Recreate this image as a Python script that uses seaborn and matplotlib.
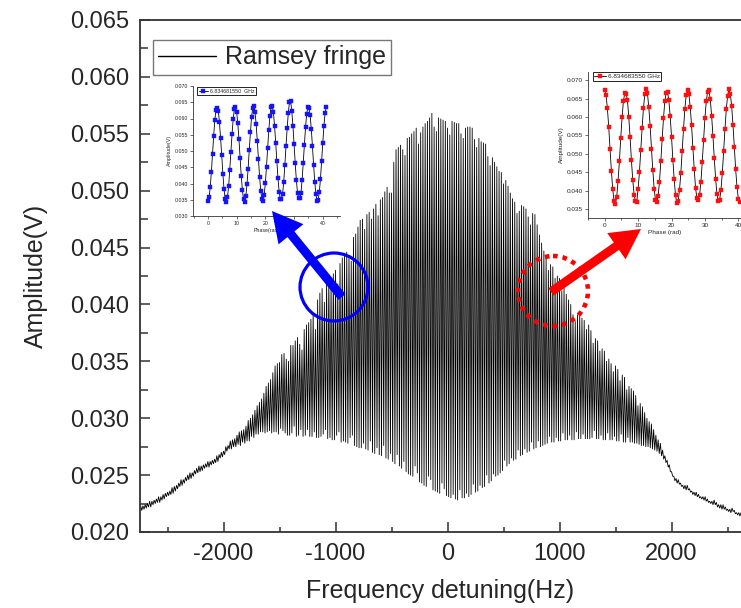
import numpy as np
import pandas as pd
import matplotlib
matplotlib.use("Agg")
import matplotlib.pyplot as plt
import seaborn as sns
from matplotlib.patches import Circle, FancyArrow
from matplotlib.ticker import MultipleLocator, FormatStrFormatter

# ---------------- data (amplitudes in units of 1e-4 V) ----------------
# Each 40 Hz block holds two fringes: peak_a (f), trough_a (f+10), peak_b (f+20), trough_b (f+30)
fringe_start_hz = -2740
block_hz = 40
peak_a_1e4 = [
    223, 224, 227, 228, 231, 233, 235, 239, 241, 246,
    248, 252, 254, 258, 259, 262, 263, 267, 270, 275,
    280, 282, 288, 290, 298, 303, 311, 317, 328, 334,
    346, 349, 357, 350, 364, 371, 360, 382, 387, 378,
    410, 402, 425, 427, 418, 441, 446, 438, 462, 474,
    466, 481, 484, 478, 494, 503, 498, 536, 540, 531,
    547, 552, 541, 556, 561, 568, 552, 563, 561, 549,
    560, 559, 546, 556, 555, 538, 543, 541, 522, 525,
    517, 506, 504, 493, 480, 487, 484, 470, 479, 461,
    447, 430, 433, 425, 412, 409, 400, 385, 391, 386,
    382, 366, 368, 361, 350, 348, 346, 333, 336, 328,
    324, 311, 310, 300, 295, 285, 278, 267, 259, 249,
    246, 241, 241, 236, 235, 231, 231, 227, 228, 224,
    224, 220, 221, 217, 217,
]
trough_a_1e4 = [
    219, 221, 222, 225, 226, 229, 232, 234, 238, 241,
    245, 247, 251, 253, 256, 257, 260, 262, 266, 271,
    273, 275, 276, 278, 280, 283, 286, 288, 288, 287,
    288, 291, 287, 285, 293, 285, 284, 290, 284, 283,
    284, 290, 283, 281, 288, 280, 278, 285, 275, 274,
    273, 280, 269, 268, 276, 264, 262, 268, 256, 253,
    250, 258, 244, 241, 249, 237, 235, 243, 232, 230,
    229, 237, 230, 231, 242, 236, 239, 250, 245, 249,
    252, 263, 260, 263, 272, 268, 270, 279, 274, 275,
    277, 284, 279, 280, 287, 281, 281, 288, 282, 282,
    282, 289, 282, 281, 287, 281, 280, 286, 279, 279,
    278, 277, 276, 275, 273, 271, 267, 261, 253, 245,
    242, 238, 237, 233, 231, 229, 227, 225, 224, 221,
    220, 218, 218, 215, 214,
]
peak_b_1e4 = [
    223, 225, 227, 229, 231, 234, 236, 240, 243, 246,
    250, 252, 256, 258, 260, 262, 264, 268, 271, 276,
    281, 285, 289, 293, 300, 307, 314, 322, 331, 340,
    348, 356, 352, 364, 368, 365, 378, 384, 393, 404,
    414, 421, 418, 430, 436, 444, 443, 459, 468, 475,
    479, 475, 488, 492, 499, 498, 525, 538, 536, 546,
    550, 555, 551, 559, 564, 556, 564, 562, 555, 561,
    559, 550, 555, 556, 545, 546, 542, 530, 529, 521,
    516, 509, 498, 490, 482, 486, 477, 480, 470, 454,
    442, 435, 423, 423, 415, 404, 391, 391, 388, 378,
    377, 370, 359, 359, 352, 341, 343, 338, 325, 326,
    320, 313, 305, 297, 290, 281, 272, 263, 253, 247,
    243, 241, 238, 235, 233, 231, 229, 227, 226, 224,
    222, 220, 219, 217, 216,
]
trough_b_1e4 = [
    220, 222, 224, 226, 228, 231, 233, 236, 240, 243,
    246, 249, 252, 254, 257, 259, 261, 265, 268, 273,
    275, 277, 279, 280, 284, 286, 288, 287, 289, 288,
    286, 289, 285, 287, 284, 290, 285, 284, 288, 283,
    286, 282, 281, 285, 279, 279, 283, 276, 274, 278,
    272, 270, 274, 267, 265, 269, 260, 258, 262, 251,
    249, 252, 243, 240, 246, 236, 234, 238, 231, 233,
    228, 230, 234, 233, 235, 241, 240, 243, 251, 250,
    254, 258, 265, 264, 267, 273, 271, 273, 280, 276,
    278, 279, 283, 280, 281, 285, 281, 282, 286, 282,
    283, 282, 285, 281, 281, 284, 280, 279, 283, 279,
    278, 276, 275, 274, 272, 269, 264, 257, 249, 243,
    240, 237, 235, 232, 230, 228, 226, 224, 222, 220,
    219, 217, 216, 214, 213,
]

blue_label = "6.834681550  GHz"
blue_phase_step = 0.4
blue_amp_1e4 = [
    345, 357, 388, 436, 491, 546, 595, 626, 633, 624,
    590, 541, 487, 430, 384, 353, 344, 358, 391, 442,
    497, 552, 598, 628, 636, 620, 585, 537, 480, 424,
    380, 351, 342, 361, 397, 446, 503, 557, 604, 632,
    637, 620, 582, 531, 474, 420, 377, 352, 346, 365,
    401, 452, 509, 564, 609, 636, 640, 620, 578, 526,
    469, 416, 375, 352, 352, 368, 405, 458, 516, 570,
    618, 650, 653, 624, 578, 521, 463, 411, 372, 355,
    355, 371, 411, 463, 520, 573, 614, 634, 632, 610,
    568, 515, 458, 406, 368, 347, 349, 373, 415, 469,
    525, 577, 616, 634,
]

red_label = "6.834683550 GHz"
red_phase_step = 0.4
red_amp_1e4 = [
    672, 660, 624, 574, 512, 454, 404, 372, 363, 384,
    427, 480, 543, 599, 643, 664, 663, 646, 600, 545,
    482, 429, 389, 371, 370, 405, 450, 511, 570, 624,
    661, 676, 664, 626, 576, 514, 456, 405, 375, 369,
    387, 424, 480, 540, 597, 643, 666, 667, 646, 602,
    547, 484, 431, 388, 366, 373, 403, 449, 509, 568,
    623, 659, 672, 662, 627, 578, 516, 458, 407, 380,
    376, 388, 424, 478, 537, 597, 642, 668, 672, 648,
    604, 549, 488, 433, 391, 371, 374, 402, 447, 507,
    568, 621, 658, 675, 663, 630, 578, 519, 458, 410,
    378, 370,
]

main_xticks = [-2000, -1000, 0, 1000, 2000]
main_yticks = [0.020, 0.025, 0.030, 0.035, 0.040, 0.045, 0.050, 0.055, 0.060, 0.065]
inset_xticks = [0, 10, 20, 30, 40]
blue_yticks = [0.030, 0.035, 0.040, 0.045, 0.050, 0.055, 0.060, 0.065, 0.070]
red_yticks = [0.035, 0.040, 0.045, 0.050, 0.055, 0.060, 0.065, 0.070]

# ---------------- style ----------------
sns.set_theme(style="white")
plt.rcParams['font.family'] = ['Liberation Sans', 'DejaVu Sans']
plt.rcParams['axes.edgecolor'] = '#333333'
plt.rcParams['axes.unicode_minus'] = False

W, H = 741, 608
fig = plt.figure(figsize=(W / 100, H / 100), dpi=100)

def px_axes(x0, y0, x1, y1):
    return fig.add_axes([x0 / W, 1 - y1 / H, (x1 - x0) / W, (y1 - y0) / H])

# ---------------- main axes ----------------
ax = px_axes(140, 20, 741, 532)
base_f = fringe_start_hz + block_hz * np.arange(len(peak_a_1e4))
freq = np.column_stack([base_f, base_f + block_hz / 4, base_f + block_hz / 2,
                        base_f + 3 * block_hz / 4]).ravel()
amp = np.column_stack([peak_a_1e4, trough_a_1e4, peak_b_1e4, trough_b_1e4]).ravel() / 1e4
df = pd.DataFrame({"f": freq, "a": amp})
sns.lineplot(data=df, x="f", y="a", sort=False, estimator=None,
             color="black", lw=0.6, ax=ax, label="Ramsey fringe")
ax.set_xlim(-2746, 2620)
ax.set_ylim(0.020, 0.065)
ax.set_xticks(main_xticks)
ax.set_yticks(main_yticks)
ax.xaxis.set_minor_locator(MultipleLocator(500))
ax.yaxis.set_minor_locator(MultipleLocator(0.0025))
ax.yaxis.set_major_formatter(FormatStrFormatter('%.3f'))
ax.tick_params(which='major', direction='in', length=7, width=1.1,
               labelsize=17, color='#333333', bottom=True, left=True, pad=8)
ax.tick_params(axis='y', which='minor', direction='in', length=6, width=1.1,
               color='#333333', left=True)
ax.tick_params(axis='x', which='minor', direction='in', length=3.6, width=1.1,
               color='#333333', bottom=True)
for s in ['left', 'bottom', 'top']:
    ax.spines[s].set_linewidth(1.3)
ax.spines['right'].set_visible(False)
ax.set_xlabel("Frequency detuning(Hz)", fontsize=18, labelpad=10)
ax.set_ylabel("Amplitude(V)", fontsize=18, labelpad=16)
leg = ax.legend(loc='upper left', bbox_to_anchor=(0.0216, 0.961), borderaxespad=0,
                fontsize=18, frameon=True, fancybox=False, framealpha=1,
                edgecolor='#777777', handlelength=2.3, handletextpad=0.35,
                borderpad=0.22)
leg.get_frame().set_linewidth(1.0)
for l in leg.get_lines():
    l.set_linewidth(1.0)

# ---------------- insets ----------------
def inset(rect, phase_step, vals, color, label, yticks, ylim, xlim, fs, xlab, ms, legpos):
    a = px_axes(*rect)
    ph = phase_step * np.arange(len(vals))
    d = pd.DataFrame({"p": ph, "v": np.array(vals) / 1e4})
    sns.lineplot(data=d, x="p", y="v", sort=False, estimator=None, color="black",
                 lw=0.6, marker='s', markersize=ms, markerfacecolor=color,
                 markeredgecolor=color, markeredgewidth=0.3, ax=a, label=label)
    a.set_xlim(*xlim)
    a.set_ylim(*ylim)
    a.set_xticks(inset_xticks)
    a.xaxis.set_minor_locator(MultipleLocator(5))
    a.set_yticks(yticks)
    a.yaxis.set_major_formatter(FormatStrFormatter('%.3f'))
    a.tick_params(which='major', direction='out', length=2, width=0.5, labelsize=fs,
                  pad=1.5, bottom=True, left=True, color='#333333')
    a.tick_params(which='minor', direction='out', length=1.3, width=0.5, bottom=True,
                  color='#333333')
    for s in ['top', 'right']:
        a.spines[s].set_visible(False)
    for s in ['left', 'bottom']:
        a.spines[s].set_linewidth(0.6)
    a.set_xlabel(xlab, fontsize=fs, labelpad=1.5)
    a.set_ylabel("Amplitude(V)", fontsize=fs, labelpad=2)
    a.patch.set_alpha(0)
    lg = a.legend(loc='upper left', bbox_to_anchor=legpos, borderaxespad=0, fontsize=fs,
                  frameon=True, fancybox=False, framealpha=1, edgecolor='black',
                  handlelength=1.8, handletextpad=0.3, borderpad=0.25)
    lg.get_frame().set_linewidth(0.6)
    return a

inset((193, 86, 340, 216), blue_phase_step, blue_amp_1e4, '#1414ff', blue_label,
      blue_yticks, (0.030, 0.070), (-5.2, 46), 3.8, "Phase(rad)", 2.6, (0.03, 0.99))
inset((588, 72, 741, 218), red_phase_step, red_amp_1e4, '#ff1010', red_label,
      red_yticks, (0.0326, 0.0722), (-5, 40.8), 4.6, "Phase (rad)", 2.9, (0.03, 1.0))

# ---------------- annotation overlay ----------------
ov = fig.add_axes([0, 0, 1, 1], zorder=10)
ov.set_xlim(0, W)
ov.set_ylim(H, 0)
ov.axis('off')
ov.patch.set_alpha(0)
ov.add_patch(Circle((334, 287), 34, fill=False, ec='#0000ff', lw=2.3))
ov.add_patch(FancyArrow(342, 297, 272 - 342, 211 - 297, width=9, head_width=32,
                        head_length=30, length_includes_head=True, color='#0000ff', lw=0))
ov.add_patch(Circle((553, 291), 35, fill=False, ec='#ff0000', lw=3.3,
                    linestyle=(0, (1.0, 1.1))))
ov.add_patch(FancyArrow(551, 292, 641 - 551, 229 - 292, width=9, head_width=32,
                        head_length=30, length_includes_head=True, color='#ff0000', lw=0))

fig.savefig("out.png", dpi=100)
